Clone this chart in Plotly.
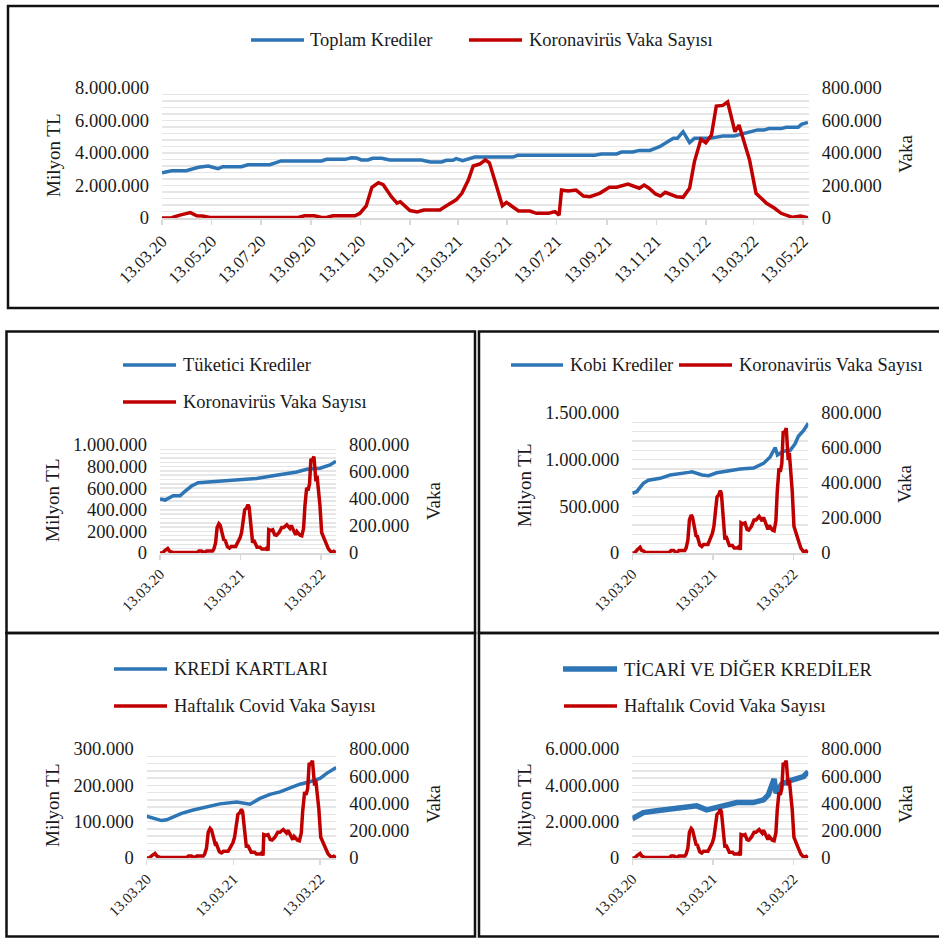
import plotly.graph_objects as go

# ---------------- DATA ----------------
covid_dates = [
    "2020-03-13", "2020-03-25", "2020-04-04", "2020-04-17", "2020-04-25", "2020-05-02", "2020-05-11",
    "2020-08-28", "2020-09-05", "2020-09-17", "2020-09-26", "2020-10-02", "2020-10-10", "2020-11-06",
    "2020-11-12", "2020-11-20", "2020-11-27", "2020-12-05", "2020-12-11", "2020-12-21", "2020-12-28",
    "2021-01-01", "2021-01-13", "2021-01-22", "2021-01-30", "2021-02-19", "2021-02-27", "2021-03-11",
    "2021-03-18", "2021-03-26", "2021-04-01", "2021-04-09", "2021-04-16", "2021-04-21", "2021-04-30",
    "2021-05-07", "2021-05-12", "2021-05-27", "2021-06-10", "2021-06-18", "2021-07-03", "2021-07-11",
    "2021-07-16", "2021-07-19", "2021-07-27", "2021-08-06", "2021-08-15", "2021-08-23", "2021-09-04",
    "2021-09-16", "2021-09-25", "2021-10-09", "2021-10-23", "2021-10-29", "2021-11-04", "2021-11-12",
    "2021-11-18", "2021-11-24", "2021-12-08", "2021-12-16", "2021-12-24", "2021-12-30", "2022-01-07",
    "2022-01-13", "2022-01-20", "2022-01-26", "2022-02-03", "2022-02-09", "2022-02-18", "2022-02-23",
    "2022-03-08", "2022-03-16", "2022-03-29", "2022-04-08", "2022-04-16", "2022-04-30", "2022-05-10",
    "2022-05-19",
]
covid_cases = [
    0, 2000, 18000, 33000, 14000, 12000, 3000,
    3000, 14000, 14000, 3000, 3000, 14000, 14000,
    28000, 74000, 189000, 217000, 205000, 131000, 92000,
    100000, 46000, 37000, 49000, 49000, 75000, 112000,
    152000, 234000, 320000, 332000, 357000, 340000, 193000,
    76000, 96000, 43000, 43000, 29000, 29000, 39000,
    18000, 172000, 166000, 172000, 135000, 131000, 152000,
    189000, 189000, 209000, 183000, 203000, 183000, 148000,
    135000, 158000, 131000, 127000, 183000, 347000, 484000,
    463000, 511000, 689000, 693000, 714000, 531000, 572000,
    357000, 152000, 90000, 60000, 29000, 4000, 12000,
    2000,
]

toplam_dates = [
    "2020-03-13", "2020-03-25", "2020-04-12", "2020-04-19", "2020-04-27", "2020-05-09", "2020-05-21",
    "2020-05-27", "2020-06-19", "2020-06-27", "2020-07-24", "2020-08-07", "2020-09-26", "2020-10-02",
    "2020-10-25", "2020-11-02", "2020-11-08", "2020-11-14", "2020-11-22", "2020-11-28", "2020-12-09",
    "2020-12-19", "2021-01-27", "2021-02-07", "2021-02-21", "2021-02-27", "2021-03-07", "2021-03-11",
    "2021-03-19", "2021-04-03", "2021-05-20", "2021-05-26", "2021-08-29", "2021-09-06", "2021-09-25",
    "2021-10-01", "2021-10-15", "2021-10-23", "2021-11-05", "2021-11-17", "2021-11-25", "2021-12-04",
    "2021-12-09", "2021-12-16", "2021-12-24", "2021-12-30", "2022-01-18", "2022-02-03", "2022-02-17",
    "2022-02-26", "2022-03-18", "2022-03-26", "2022-04-01", "2022-04-16", "2022-04-22", "2022-05-07",
    "2022-05-11", "2022-05-19",
]
toplam_values = [
    2790000, 2910000, 2910000, 3030000, 3120000, 3200000, 3030000,
    3160000, 3160000, 3280000, 3280000, 3510000, 3510000, 3610000,
    3610000, 3710000, 3690000, 3570000, 3570000, 3670000, 3670000,
    3570000, 3570000, 3450000, 3450000, 3550000, 3550000, 3650000,
    3530000, 3750000, 3750000, 3860000, 3860000, 3940000, 3940000,
    4060000, 4060000, 4160000, 4160000, 4390000, 4640000, 4900000,
    4900000, 5310000, 4640000, 4900000, 4900000, 5050000, 5050000,
    5150000, 5420000, 5420000, 5500000, 5500000, 5580000, 5580000,
    5760000, 5890000,
]

tuketici_dates = [
    "2020-03-13", "2020-04-05", "2020-05-12", "2020-06-12", "2020-07-04", "2020-08-03", "2020-09-02",
    "2020-11-09", "2021-03-11", "2021-05-25", "2021-07-25", "2021-09-23", "2021-11-23", "2022-01-07",
    "2022-03-09", "2022-04-23", "2022-05-20",
]
tuketici_values = [
    500000, 490000, 530000, 530000, 570000, 620000, 650000,
    660000, 676000, 690000, 710000, 730000, 750000, 775000,
    785000, 815000, 850000,
]

kobi_dates = [
    "2020-03-13", "2020-04-02", "2020-05-02", "2020-05-25", "2020-07-17", "2020-09-01", "2020-11-24",
    "2020-12-09", "2021-01-23", "2021-02-22", "2021-03-31", "2021-05-16", "2021-07-15", "2021-09-14",
    "2021-10-29", "2021-11-28", "2021-12-21", "2021-12-31", "2022-01-27", "2022-02-27", "2022-03-21",
    "2022-04-05", "2022-04-28", "2022-05-20",
]
kobi_values = [
    640000, 657000, 746000, 780000, 800000, 836000, 864000,
    870000, 836000, 829000, 860000, 880000, 900000, 910000,
    960000, 1030000, 1130000, 1050000, 1090000, 1100000, 1170000,
    1250000, 1310000, 1390000,
]

kart_dates = [
    "2020-03-13", "2020-04-10", "2020-05-15", "2020-06-05", "2020-07-03", "2020-08-07", "2020-09-25",
    "2020-11-20", "2021-01-15", "2021-03-27", "2021-04-17", "2021-05-22", "2021-07-03", "2021-08-14",
    "2021-09-25", "2021-11-06", "2021-12-18", "2022-01-29", "2022-03-13", "2022-04-10", "2022-05-20",
]
kart_values = [
    115000, 109000, 103000, 105000, 112000, 123000, 132000,
    141000, 149000, 154000, 151000, 148000, 164000, 175000,
    182000, 192000, 203000, 210000, 219000, 233000, 249000,
]

ticari_dates = [
    "2020-03-13", "2020-05-02", "2020-07-01", "2020-08-31", "2020-10-30", "2020-12-30", "2021-02-13",
    "2021-03-16", "2021-04-30", "2021-06-30", "2021-09-13", "2021-10-29", "2021-11-20", "2021-12-16",
    "2021-12-25", "2022-01-20", "2022-02-27", "2022-04-28", "2022-05-20",
]
ticari_values = [
    2160000, 2500000, 2600000, 2690000, 2840000, 2870000, 2650000,
    2740000, 2930000, 3050000, 3050000, 3200000, 3480000, 4350000,
    3570000, 4080000, 4260000, 4480000, 4760000,
]

x_start, x_end = "2020-03-13", "2022-05-20"

# ---------------- STYLE / LAYOUT ----------------
W = H = 939
FONT = "Liberation Serif"
TXT = "#1a1a1a"
BLUE = "#2E75B6"
RED = "#C00000"
GRID = "#e6e6e6"
AXL = "#d9d9d9"


def fx(x):
    return x / W


def fy(y):
    return 1 - y / H


panels = [
    dict(x0=162, x1=808.7, yb=218, yt=88, lmax=8e6, ldt=2e6, lminor=4e5, xdt="M2", xfs=17,
         blue=(toplam_dates, toplam_values), bw=3.5,
         names=("Toplam Krediler", "Koronavirüs Vaka Sayısı"),
         leg=[(251, 304, 308, 40, 0), (469, 522, 527, 40, 1)],
         ytl=(53, 155), ytr=(905, 154)),
    dict(x0=160, x1=336, yb=553, yt=445, lmax=1e6, ldt=2e5, lminor=4e4, xdt="M12", xfs=15,
         blue=(tuketici_dates, tuketici_values), bw=3.5,
         names=("Tüketici Krediler", "Koronavirüs Vaka Sayısı"),
         leg=[(123, 176, 181, 365, 0), (123, 176, 181, 402, 1)],
         ytl=(52, 500), ytr=(433, 501)),
    dict(x0=632.3, x1=808.3, yb=553, yt=413, lmax=1.5e6, ldt=5e5, lminor=1e5, xdt="M12", xfs=15,
         blue=(kobi_dates, kobi_values), bw=3.5,
         names=("Kobi Krediler", "Koronavirüs Vaka Sayısı"),
         leg=[(511, 563, 568, 365, 0), (679, 732, 737, 365, 1)],
         ytl=(524, 485), ytr=(905, 484)),
    dict(x0=146.7, x1=336.2, yb=858, yt=749, lmax=3e5, ldt=1e5, lminor=2e4, xdt="M12", xfs=15,
         blue=(kart_dates, kart_values), bw=3.5,
         names=("KREDİ KARTLARI", "Haftalık Covid Vaka Sayısı"),
         leg=[(114, 167, 172, 669, 0), (114, 167, 172, 706, 1)],
         ytl=(52, 805), ytr=(433, 804)),
    dict(x0=632.3, x1=808.3, yb=858, yt=749, lmax=6e6, ldt=2e6, lminor=4e5, xdt="M12", xfs=15,
         blue=(ticari_dates, ticari_values), bw=5.5,
         names=("TİCARİ VE DİĞER KREDİLER", "Haftalık Covid Vaka Sayısı"),
         leg=[(563, 617, 622, 669, 0), (564, 617, 622, 706, 1)],
         ytl=(524, 805), ytr=(905, 804)),
]

fig = go.Figure()
layout = dict(
    template="none",
    width=W, height=H, autosize=False,
    margin=dict(l=0, r=0, t=0, b=0, pad=0, autoexpand=False),
    paper_bgcolor="white", plot_bgcolor="rgba(0,0,0,0)",
    showlegend=False, separators=",.",
    font=dict(family=FONT, color=TXT, size=18),
)
shapes = []
annotations = []

for i, p in enumerate(panels):
    xn = "" if i == 0 else str(i + 1)
    yl = str(2 * i + 1) if i > 0 else ""
    yr = str(2 * i + 2)
    xref = "x" + xn
    ylref = "y" + yl
    yrref = "y" + yr

    bd, bv = p["blue"]
    fig.add_trace(go.Scatter(x=bd, y=bv, mode="lines", name=p["names"][0],
                             line=dict(color=BLUE, width=p["bw"]),
                             xaxis=xref, yaxis=ylref, hoverinfo="skip"))
    fig.add_trace(go.Scatter(x=covid_dates, y=covid_cases, mode="lines", name=p["names"][1],
                             line=dict(color=RED, width=3.5),
                             xaxis=xref, yaxis=yrref, hoverinfo="skip"))

    xdom = [fx(p["x0"]), fx(p["x1"])]
    ydom = [fy(p["yb"]), fy(p["yt"])]
    layout["xaxis" + xn] = dict(
        domain=xdom, anchor=ylref, type="date", range=[x_start, x_end], automargin=False,
        tick0="2020-03-13", dtick=p["xdt"], tickformat="%d.%m.%y", tickangle=-45,
        showline=True, linecolor=AXL, linewidth=1.5, ticks="outside", ticklen=5,
        tickcolor=AXL, tickwidth=1.5, showgrid=False, zeroline=False,
        tickfont=dict(family=FONT, size=p["xfs"], color=TXT), fixedrange=True,
    )
    layout["yaxis" + yl] = dict(
        domain=ydom, anchor=xref, range=[0, p["lmax"]], tick0=0, dtick=p["ldt"], automargin=False,
        tickformat=",d", showgrid=True, gridcolor=GRID, gridwidth=1.5, zeroline=False,
        showline=False, ticks="", ticklabelstandoff=12,
        minor=dict(dtick=p["lminor"], tick0=0, showgrid=True, gridcolor=GRID, gridwidth=1.5),
        tickfont=dict(family=FONT, size=18.5, color=TXT), fixedrange=True,
    )
    layout["yaxis" + yr] = dict(
        domain=ydom, anchor=xref, overlaying=ylref, side="right", range=[0, 800000],
        tick0=0, dtick=200000, tickformat=",d", showgrid=False, zeroline=False, automargin=False,
        showline=False, ticks="", ticklabelstandoff=12,
        tickfont=dict(family=FONT, size=18.5, color=TXT), fixedrange=True,
    )

    # legend (line samples + labels)
    for (lx0, lx1, tx, ly, k) in p["leg"]:
        col = BLUE if k == 0 else RED
        lw = p["bw"] if k == 0 else 3.5
        shapes.append(dict(type="line", xref="paper", yref="paper",
                           x0=fx(lx0), x1=fx(lx1), y0=fy(ly), y1=fy(ly),
                           line=dict(color=col, width=lw)))
        annotations.append(dict(text=p["names"][k], xref="paper", yref="paper",
                                x=fx(tx), y=fy(ly), xanchor="left", yanchor="middle",
                                showarrow=False, font=dict(family=FONT, size=18.5, color=TXT)))
    # axis titles
    annotations.append(dict(text="Milyon TL", xref="paper", yref="paper",
                            x=fx(p["ytl"][0]), y=fy(p["ytl"][1]), xanchor="center", yanchor="middle",
                            textangle=-90, showarrow=False, font=dict(family=FONT, size=19, color=TXT)))
    annotations.append(dict(text="Vaka", xref="paper", yref="paper",
                            x=fx(p["ytr"][0]), y=fy(p["ytr"][1]), xanchor="center", yanchor="middle",
                            textangle=-90, showarrow=False, font=dict(family=FONT, size=19, color=TXT)))

# panel frames
frames = [(8, 6, 941, 308), (6.5, 331.5, 475, 633), (479, 331.5, 941, 633),
          (6.5, 633, 475, 936.5), (479, 633, 941, 936.5)]
for (a, b, c, d) in frames:
    shapes.append(dict(type="rect", xref="paper", yref="paper",
                       x0=fx(a), x1=fx(c), y0=fy(d), y1=fy(b),
                       line=dict(color="#111111", width=2.5), fillcolor="rgba(0,0,0,0)", layer="above"))

layout["shapes"] = shapes
layout["annotations"] = annotations
fig.update_layout(**layout)

fig.write_html("out.html",
               config={"displayModeBar": False, "staticPlot": True},
               post_script="document.body.style.margin='0';document.body.style.padding='0';"
                           "document.body.style.overflow='hidden';")
